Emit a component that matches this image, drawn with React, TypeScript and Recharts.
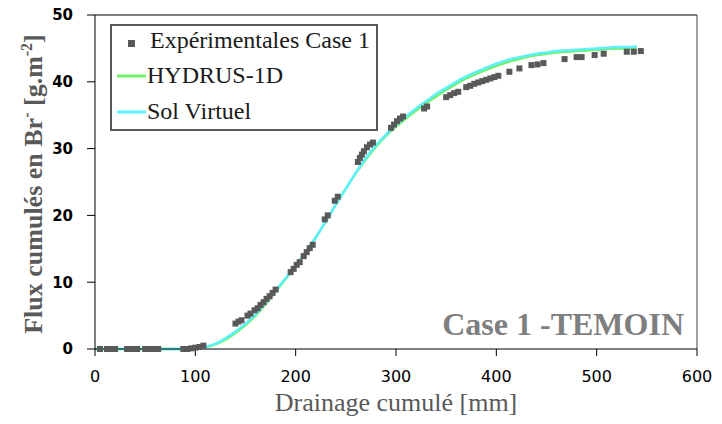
import React from "react";
import {
  ComposedChart,
  Line,
  Scatter,
  XAxis,
  YAxis,
  Legend,
  Label,
  ReferenceLine,
} from "recharts";

// drainage cumulé (mm) for the simulated curves
const modelX = [
  0, 20, 40, 60, 80, 100, 110, 120, 130, 140, 150, 160, 170, 180, 190, 200,
  210, 220, 230, 240, 250, 260, 270, 280, 290, 300, 310, 320, 330, 340, 350,
  360, 370, 380, 390, 400, 410, 420, 430, 440, 450, 460, 470, 480, 490, 500,
  510, 520, 530, 540,
];
const hydrusY = [
  0, 0, 0, 0, 0, 0.05, 0.25, 0.7, 1.4, 2.4, 3.6, 5.0, 6.7, 8.6, 10.5, 12.4,
  14.5, 16.7, 19.1, 21.6, 24.0, 26.3, 28.4, 30.3, 31.9, 33.3, 34.5, 35.7, 36.8,
  37.8, 38.8, 39.7, 40.5, 41.2, 41.8, 42.4, 42.9, 43.3, 43.7, 44.0, 44.2, 44.4,
  44.5, 44.6, 44.7, 44.8, 44.9, 45.0, 45.0, 45.1,
];
const solVirtuelY = [
  0, 0, 0, 0, 0, 0.05, 0.3, 0.8, 1.6, 2.6, 3.8, 5.2, 6.9, 8.8, 10.6, 12.5,
  14.5, 16.7, 19.1, 21.6, 24.0, 26.4, 28.6, 30.5, 32.1, 33.5, 34.8, 36.0, 37.1,
  38.2, 39.1, 40.0, 40.8, 41.5, 42.1, 42.7, 43.2, 43.6, 43.9, 44.2, 44.4, 44.6,
  44.7, 44.8, 44.9, 45.0, 45.1, 45.2, 45.2, 45.3,
];

// mesures expérimentales Case 1
const expX = [
  5, 12, 16, 20, 32, 37, 42, 50, 54, 58, 63, 88, 92, 96, 100, 104, 108,
  140, 143, 146, 152, 155, 159, 162, 165, 168, 171, 174, 177, 180,
  195, 198, 201, 204, 208, 211, 214, 217, 229, 232, 239, 242,
  262, 264, 266, 268, 271, 274, 277, 295, 298, 301, 304, 307, 328, 331,
  350, 354, 358, 362, 370, 374, 378, 382, 386, 390, 394, 398, 402,
  413, 423, 435, 441, 447, 468, 480, 485, 498, 507, 530, 537, 544,
];
const expY = [
  0, 0, 0, 0, 0, 0, 0, 0, 0, 0, 0, 0, 0, 0.1, 0.2, 0.3, 0.5,
  3.8, 4.1, 4.3, 5.0, 5.3, 5.8, 6.1, 6.6, 7.0, 7.5, 7.9, 8.4, 8.9,
  11.5, 12.0, 12.6, 13.0, 13.9, 14.5, 15.1, 15.6, 19.4, 20.0, 22.2, 22.8,
  28.0, 28.6, 29.1, 29.6, 30.2, 30.6, 30.9, 33.1, 33.6, 34.1, 34.5, 34.8, 36.0, 36.3,
  37.7, 38.0, 38.3, 38.5, 39.2, 39.4, 39.7, 39.9, 40.1, 40.3, 40.5, 40.7, 40.9,
  41.5, 42.0, 42.5, 42.6, 42.8, 43.4, 43.7, 43.7, 44.0, 44.2, 44.5, 44.5, 44.6,
];

const xTicks = [0, 100, 200, 300, 400, 500, 600];
const yTicks = [0, 10, 20, 30, 40, 50];

const hydrusData = modelX.map((x, i) => ({ x, y: hydrusY[i] }));
const solData = modelX.map((x, i) => ({ x, y: solVirtuelY[i] }));
const expData = expX.map((x, i) => ({ x, y: expY[i] }));

const GREEN = "#6CF26C";
const CYAN = "#5FF0FF";
const GREY = "#595959";

const SquareDot = (props: any) => (
  <rect x={props.cx - 3} y={props.cy - 3} width={6} height={6} fill={GREY} />
);

const LegendBox = () => (
  <svg width={268} height={107} style={{ display: "block" }}>
    <rect x={1} y={1} width={266} height={105} fill="#fff" stroke={GREY} strokeWidth={2} />
    <g fontFamily="'Liberation Serif', serif" fontSize={24} fill="#1a1a1a">
      <rect x={18} y={16} width={7} height={7} fill={GREY} />
      <text x={40} y={24}>Expérimentales Case 1</text>
      <line x1={7} x2={36} y1={52} y2={52} stroke={GREEN} strokeWidth={3} />
      <text x={37} y={59}>HYDRUS-1D</text>
      <line x1={7} x2={36} y1={88} y2={88} stroke={CYAN} strokeWidth={3} />
      <text x={37} y={95}>Sol Virtuel</text>
    </g>
  </svg>
);

export default function App() {
  return (
    <div style={{ position: "absolute", left: 0, top: 0 }}>
      <ComposedChart
        width={722}
        height={424}
        margin={{ top: 15, right: 25, left: 35, bottom: 35 }}
      >
        <XAxis
          type="number"
          dataKey="x"
          domain={[0, 600]}
          ticks={xTicks}
          height={40}
          tickSize={7}
          tickMargin={15}
          stroke="#000"
          tick={{ fill: "#000", fontSize: 16, fontFamily: "'DejaVu Sans', sans-serif" }}
        >
          <Label
            content={() => (
              <text
                x={396}
                y={411}
                textAnchor="middle"
                fontFamily="'Liberation Serif', serif"
                fontSize={26}
                fill={GREY}
              >
                Drainage cumulé [mm]
              </text>
            )}
          />
          <Label
            content={() => (
              <text
                x={684}
                y={335}
                textAnchor="end"
                fontFamily="'Liberation Serif', serif"
                fontWeight="bold"
                fontSize={32}
                fill="#7f7f7f"
              >
                Case 1 -TEMOIN
              </text>
            )}
          />
        </XAxis>
        <YAxis
          type="number"
          dataKey="y"
          domain={[0, 50]}
          ticks={yTicks}
          width={60}
          tickSize={8}
          tickMargin={14}
          stroke="#000"
          tick={{
            fill: "#000",
            fontSize: 15,
            fontWeight: "bold",
            fontFamily: "'DejaVu Sans', sans-serif",
          }}
        >
          <Label
            content={() => (
              <text
                x={42}
                y={184}
                textAnchor="middle"
                transform="rotate(-90, 42, 184)"
                fontFamily="'Liberation Serif', serif"
                fontWeight="bold"
                fontSize={26}
                fill={GREY}
              >
                Flux cumulés en Br
                <tspan dy={-10} fontSize={16}>-</tspan>
                <tspan dy={10}> [g.m</tspan>
                <tspan dy={-10} fontSize={16}>-2</tspan>
                <tspan dy={10}>]</tspan>
              </text>
            )}
          />
        </YAxis>
        <ReferenceLine
          segment={[
            { x: 0, y: 50 },
            { x: 600, y: 50 },
          ]}
          stroke="#000"
        />
        <ReferenceLine
          segment={[
            { x: 600, y: 0 },
            { x: 600, y: 50 },
          ]}
          stroke="#404040"
        />
        <Legend
          layout="vertical"
          align="center"
          verticalAlign="middle"
          wrapperStyle={{ left: 110, top: 24, width: 268, height: 107 }}
          content={() => <LegendBox />}
        />
        <Line
          data={hydrusData}
          dataKey="y"
          name="HYDRUS-1D"
          type="monotone"
          stroke={GREEN}
          strokeWidth={2.5}
          dot={false}
          isAnimationActive={false}
        />
        <Line
          data={solData}
          dataKey="y"
          name="Sol Virtuel"
          type="monotone"
          stroke={CYAN}
          strokeWidth={2.5}
          dot={false}
          isAnimationActive={false}
        />
        <Scatter
          data={expData}
          dataKey="y"
          name="Expérimentales Case 1"
          shape={SquareDot}
          isAnimationActive={false}
        />
      </ComposedChart>
    </div>
  );
}
